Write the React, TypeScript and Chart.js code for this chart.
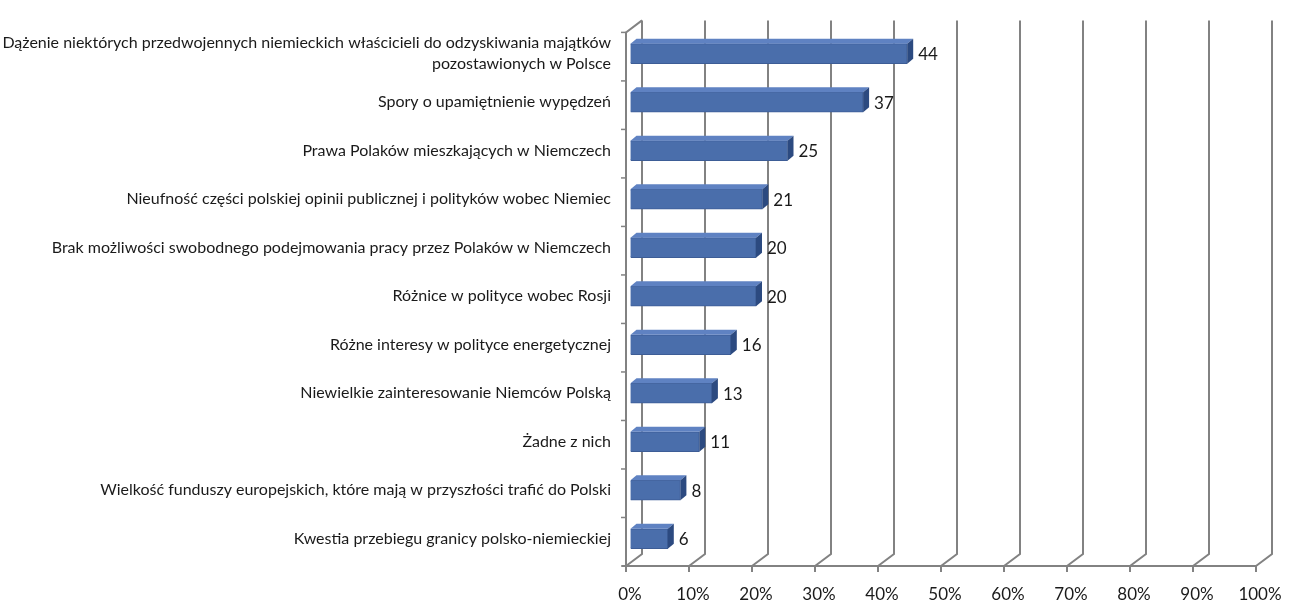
import React, { useEffect, useRef } from "react";
import { Chart, registerables } from "chart.js";

Chart.register(...registerables);

const categories: (string | string[])[] = [
  ["Dążenie niektórych przedwojennych niemieckich właścicieli do odzyskiwania majątków", "pozostawionych w Polsce"],
  "Spory o upamiętnienie wypędzeń",
  "Prawa Polaków mieszkających w Niemczech",
  "Nieufność części polskiej opinii publicznej i polityków wobec Niemiec",
  "Brak możliwości swobodnego podejmowania pracy przez Polaków w Niemczech",
  "Różnice w polityce wobec Rosji",
  "Różne interesy w polityce energetycznej",
  "Niewielkie zainteresowanie Niemców Polską",
  "Żadne z nich",
  "Wielkość funduszy europejskich, które mają w przyszłości trafić do Polski",
  "Kwestia przebiegu granicy polsko-niemieckiej",
];

const values: number[] = [44, 37, 25, 21, 20, 20, 16, 13, 11, 8, 6];

const axisMin = 0;
const axisMax = 100;
const axisStep = 10;

// perspective offsets of the 3D walls and bars
const WALL_DX = 16;
const WALL_DY = -12;
const BAR_DX = 6;
const BAR_DY = -5;

const GRID = "#828282";
const TEXT = "#1a1a1a";
const BAR_FRONT = "#4a6eab";
const BAR_TOP = "#5f82c2";
const BAR_SIDE = "#2c4a80";

const wallsPlugin = {
  id: "walls3d",
  beforeDatasetsDraw(chart: any) {
    const { ctx, chartArea, scales } = chart;
    const xs = scales.x;
    const frontBottom = chartArea.bottom + 3;
    const frontTop = chartArea.top + 3;
    const shift = -4;
    ctx.save();
    ctx.strokeStyle = GRID;
    ctx.lineWidth = 2;
    ctx.lineCap = "butt";
    for (let v = axisMin; v <= axisMax; v += axisStep) {
      const fx = xs.getPixelForValue(v) + shift;
      const bx = fx + WALL_DX;
      const by = frontBottom + WALL_DY;
      ctx.beginPath();
      ctx.moveTo(fx, frontBottom);
      ctx.lineTo(bx, by);
      ctx.lineTo(bx, frontTop + WALL_DY);
      ctx.stroke();
      // tick mark below the floor edge
      ctx.beginPath();
      ctx.moveTo(fx, frontBottom);
      ctx.lineTo(fx, frontBottom + 6);
      ctx.stroke();
    }
    const x0 = xs.getPixelForValue(axisMin) + shift;
    const x1 = xs.getPixelForValue(axisMax) + shift;
    // floor front edge
    ctx.beginPath();
    ctx.moveTo(x0 - 4, frontBottom);
    ctx.lineTo(x1, frontBottom);
    ctx.stroke();
    // side wall front edge and top
    ctx.beginPath();
    ctx.moveTo(x0, frontBottom);
    ctx.lineTo(x0, frontTop);
    ctx.lineTo(x0 + WALL_DX, frontTop + WALL_DY);
    ctx.stroke();
    // category tick marks
    const n = categories.length;
    const step = (chartArea.bottom - chartArea.top) / n;
    ctx.lineWidth = 1.5;
    for (let i = 0; i <= n; i++) {
      const y = frontTop + step * i;
      ctx.beginPath();
      ctx.moveTo(x0 - 5, y);
      ctx.lineTo(x0, y);
      ctx.stroke();
    }
    ctx.restore();
  },
  afterDatasetsDraw(chart: any) {
    const { ctx } = chart;
    const meta = chart.getDatasetMeta(0);
    const data = chart.data.datasets[0].data as number[];
    ctx.save();
    meta.data.forEach((bar: any, i: number) => {
      const { x, y, base, height } = bar.getProps(["x", "y", "base", "height"], true);
      const top = y - height / 2;
      const bottom = y + height / 2;
      // top face
      ctx.fillStyle = BAR_TOP;
      ctx.beginPath();
      ctx.moveTo(base, top);
      ctx.lineTo(base + BAR_DX, top + BAR_DY);
      ctx.lineTo(x + BAR_DX, top + BAR_DY);
      ctx.lineTo(x, top);
      ctx.closePath();
      ctx.fill();
      // side face
      ctx.fillStyle = BAR_SIDE;
      ctx.beginPath();
      ctx.moveTo(x, top);
      ctx.lineTo(x + BAR_DX, top + BAR_DY);
      ctx.lineTo(x + BAR_DX, bottom + BAR_DY);
      ctx.lineTo(x, bottom);
      ctx.closePath();
      ctx.fill();
      // value label
      ctx.fillStyle = TEXT;
      ctx.font = "17px Lato";
      ctx.textAlign = "left";
      ctx.textBaseline = "middle";
      ctx.fillText(String(data[i]), x + BAR_DX + 5, y + 1);
    });
    ctx.restore();
  },
};

export default function App() {
  const canvasRef = useRef<HTMLCanvasElement | null>(null);

  useEffect(() => {
    if (!canvasRef.current) return;
    const chart = new Chart(canvasRef.current, {
      type: "bar",
      data: {
        labels: categories,
        datasets: [
          {
            data: values,
            backgroundColor: BAR_FRONT,
            borderColor: "#3d5d96",
            borderWidth: 1,
            barThickness: 20,
          },
        ],
      },
      options: {
        indexAxis: "y",
        animation: false,
        responsive: false,
        maintainAspectRatio: false,
        layout: { padding: { left: 0, right: 29, top: 24, bottom: 0 } },
        plugins: {
          legend: { display: false },
          tooltip: { enabled: false },
        },
        scales: {
          x: {
            min: axisMin,
            max: axisMax,
            border: { display: false },
            grid: {
              display: true,
              drawOnChartArea: false,
              drawTicks: true,
              tickLength: 21,
              color: "rgba(0,0,0,0)",
            },
            ticks: {
              stepSize: axisStep,
              padding: 0,
              color: TEXT,
              font: { family: "Lato", size: 17 },
              callback: (v: any) => `${v}%`,
            },
            afterFit: (s: any) => {
              s.height = 40;
            },
          },
          y: {
            border: { display: false },
            grid: { display: false, drawTicks: false },
            ticks: {
              padding: 19,
              color: TEXT,
              font: { family: "Lato", size: 16, lineHeight: 1.3 },
            },
            afterFit: (s: any) => {
              s.width = 630;
            },
          },
        },
      },
      plugins: [wallsPlugin],
    });
    return () => chart.destroy();
  }, []);

  return (
    <div style={{ position: "fixed", left: 0, top: 0, width: 1289, height: 603, background: "#fff" }}>
      <canvas ref={canvasRef} width={1289} height={603} />
    </div>
  );
}
